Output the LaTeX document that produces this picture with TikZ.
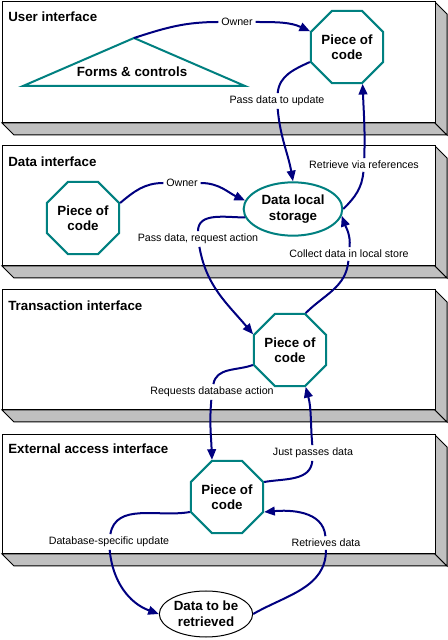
\documentclass[tikz,border=0pt]{standalone}
\usepackage{fontspec}
\setmainfont{Liberation Sans}
\usetikzlibrary{shapes.geometric,arrows.meta}
\definecolor{navy}{RGB}{0,0,128}
\definecolor{tealline}{RGB}{0,128,128}
\definecolor{shade}{RGB}{192,192,192}

\begin{document}
\begin{tikzpicture}[x=0.75pt,y=0.75pt,
    code/.style={regular polygon,regular polygon sides=8,draw=tealline,line width=1.5pt,fill=white,minimum size=53pt,inner sep=0pt,align=center,font=\fontsize{10}{11.5}\selectfont\bfseries},
    store/.style={ellipse,draw=tealline,line width=1.5pt,fill=white,minimum width=74pt,minimum height=40pt,inner sep=0pt,align=center,font=\fontsize{10}{12}\selectfont\bfseries},
    datum/.style={ellipse,draw,line width=0.75pt,fill=white,minimum width=70pt,minimum height=34.5pt,inner sep=0pt,align=center,font=\fontsize{10}{12}\selectfont\bfseries},
    title/.style={anchor=west,inner sep=0pt,font=\fontsize{10}{12}\selectfont\bfseries},
    lbl/.style={inner sep=2pt,font=\fontsize{8}{9}\selectfont},
    link/.style={draw=navy,line width=1.5pt,-{Triangle[length=8pt,width=6.5pt]}}]
\useasboundingbox (0,0) rectangle (448,640);

% the four layers
\foreach \top/\bot/\name/\ty in {638/517/User interface/623, 494/374/Data interface/478, 350/230/Transaction interface/334, 205/86/External access interface/191} {
    \draw[line width=0.75pt,fill=shade] (2,\bot) -- (435,\bot) -- (447,\bot-12) -- (14,\bot-12) -- cycle;
    \draw[line width=0.75pt,fill=shade] (435,\top) -- (447,\top-12) -- (447,\bot-12) -- (435,\bot) -- cycle;
    \draw[line width=0.75pt,fill=white] (2,\bot) rectangle (435,\top);
    \node[title] (layer\top) at (8,\ty) {\name};
}

% forms & controls
\coordinate (apex) at (134,602);
\draw[tealline,line width=1.5pt] (23,554) -- (apex) -- (245,554) -- cycle;
\node[inner sep=0pt,font=\fontsize{10}{12}\selectfont\bfseries] (forms) at (132,568) {Forms \& controls};

\node[code] (ui) at (347,593) {Piece of\\code};
\node[code] (di) at (83,422) {Piece of\\code};
\node[store] (local) at (293,431) {Data local\\storage};
\node[code] (ti) at (290,290) {Piece of\\code};
\node[code] (ea) at (227,143) {Piece of\\code};
\node[datum] (remote) at (206,26) {Data to be\\retrieved};

\node[lbl] (own1) at (237,618) {Owner};
\node[lbl] (upd) at (277,539) {Pass data to update};
\node[lbl] (ref) at (364,475) {Retrieve via references};
\node[lbl] (own2) at (182,457) {Owner};
\node[lbl] (req) at (198,401) {Pass data, request action};
\node[lbl] (col) at (349,386) {Collect data in local store};
\node[lbl] (dba) at (212,248) {Requests database action};
\node[lbl] (pass) at (313,187) {Just passes data};
\node[lbl] (dsu) at (109,98) {Database-specific update};
\node[lbl] (ret) at (326,97) {Retrieves data};

% connectors
\draw[link] (apex) to[out=18,in=180] (own1) to[out=0,in=155] (ui.157.5);
\draw[link] (ui.202.5) to[out=205,in=85] (upd) to[out=-85,in=100] (local.north);
\draw[link] (local.east) to[out=45,in=-95] (ref) to[out=88,in=-88] (ui.-67.5);
\draw[link] (di.22.5) to[out=40,in=180] (own2) to[out=0,in=155] (local.170);
\draw[link] (local.190) to[out=180,in=90] (req) to[out=-80,in=130] (ti.157.5);
\draw[link] (ti.67.5) to[out=45,in=-95] (col) to[out=85,in=-70] (local.-8);
\draw[link] (ti.202.5) to[out=200,in=80] (dba) to[out=-95,in=92] (ea.112.5);
\draw[link] (ea.22.5) to[out=10,in=-95] (pass) to[out=95,in=-75] (ti.-67.5);
\draw[link] (ea.202.5) to[out=190,in=80] (dsu) to[out=-85,in=160] (remote.west);
\draw[link] (remote.east) to[out=30,in=-90] (ret) to[out=95,in=5] (ea.-22.5);
\end{tikzpicture}
\end{document}
